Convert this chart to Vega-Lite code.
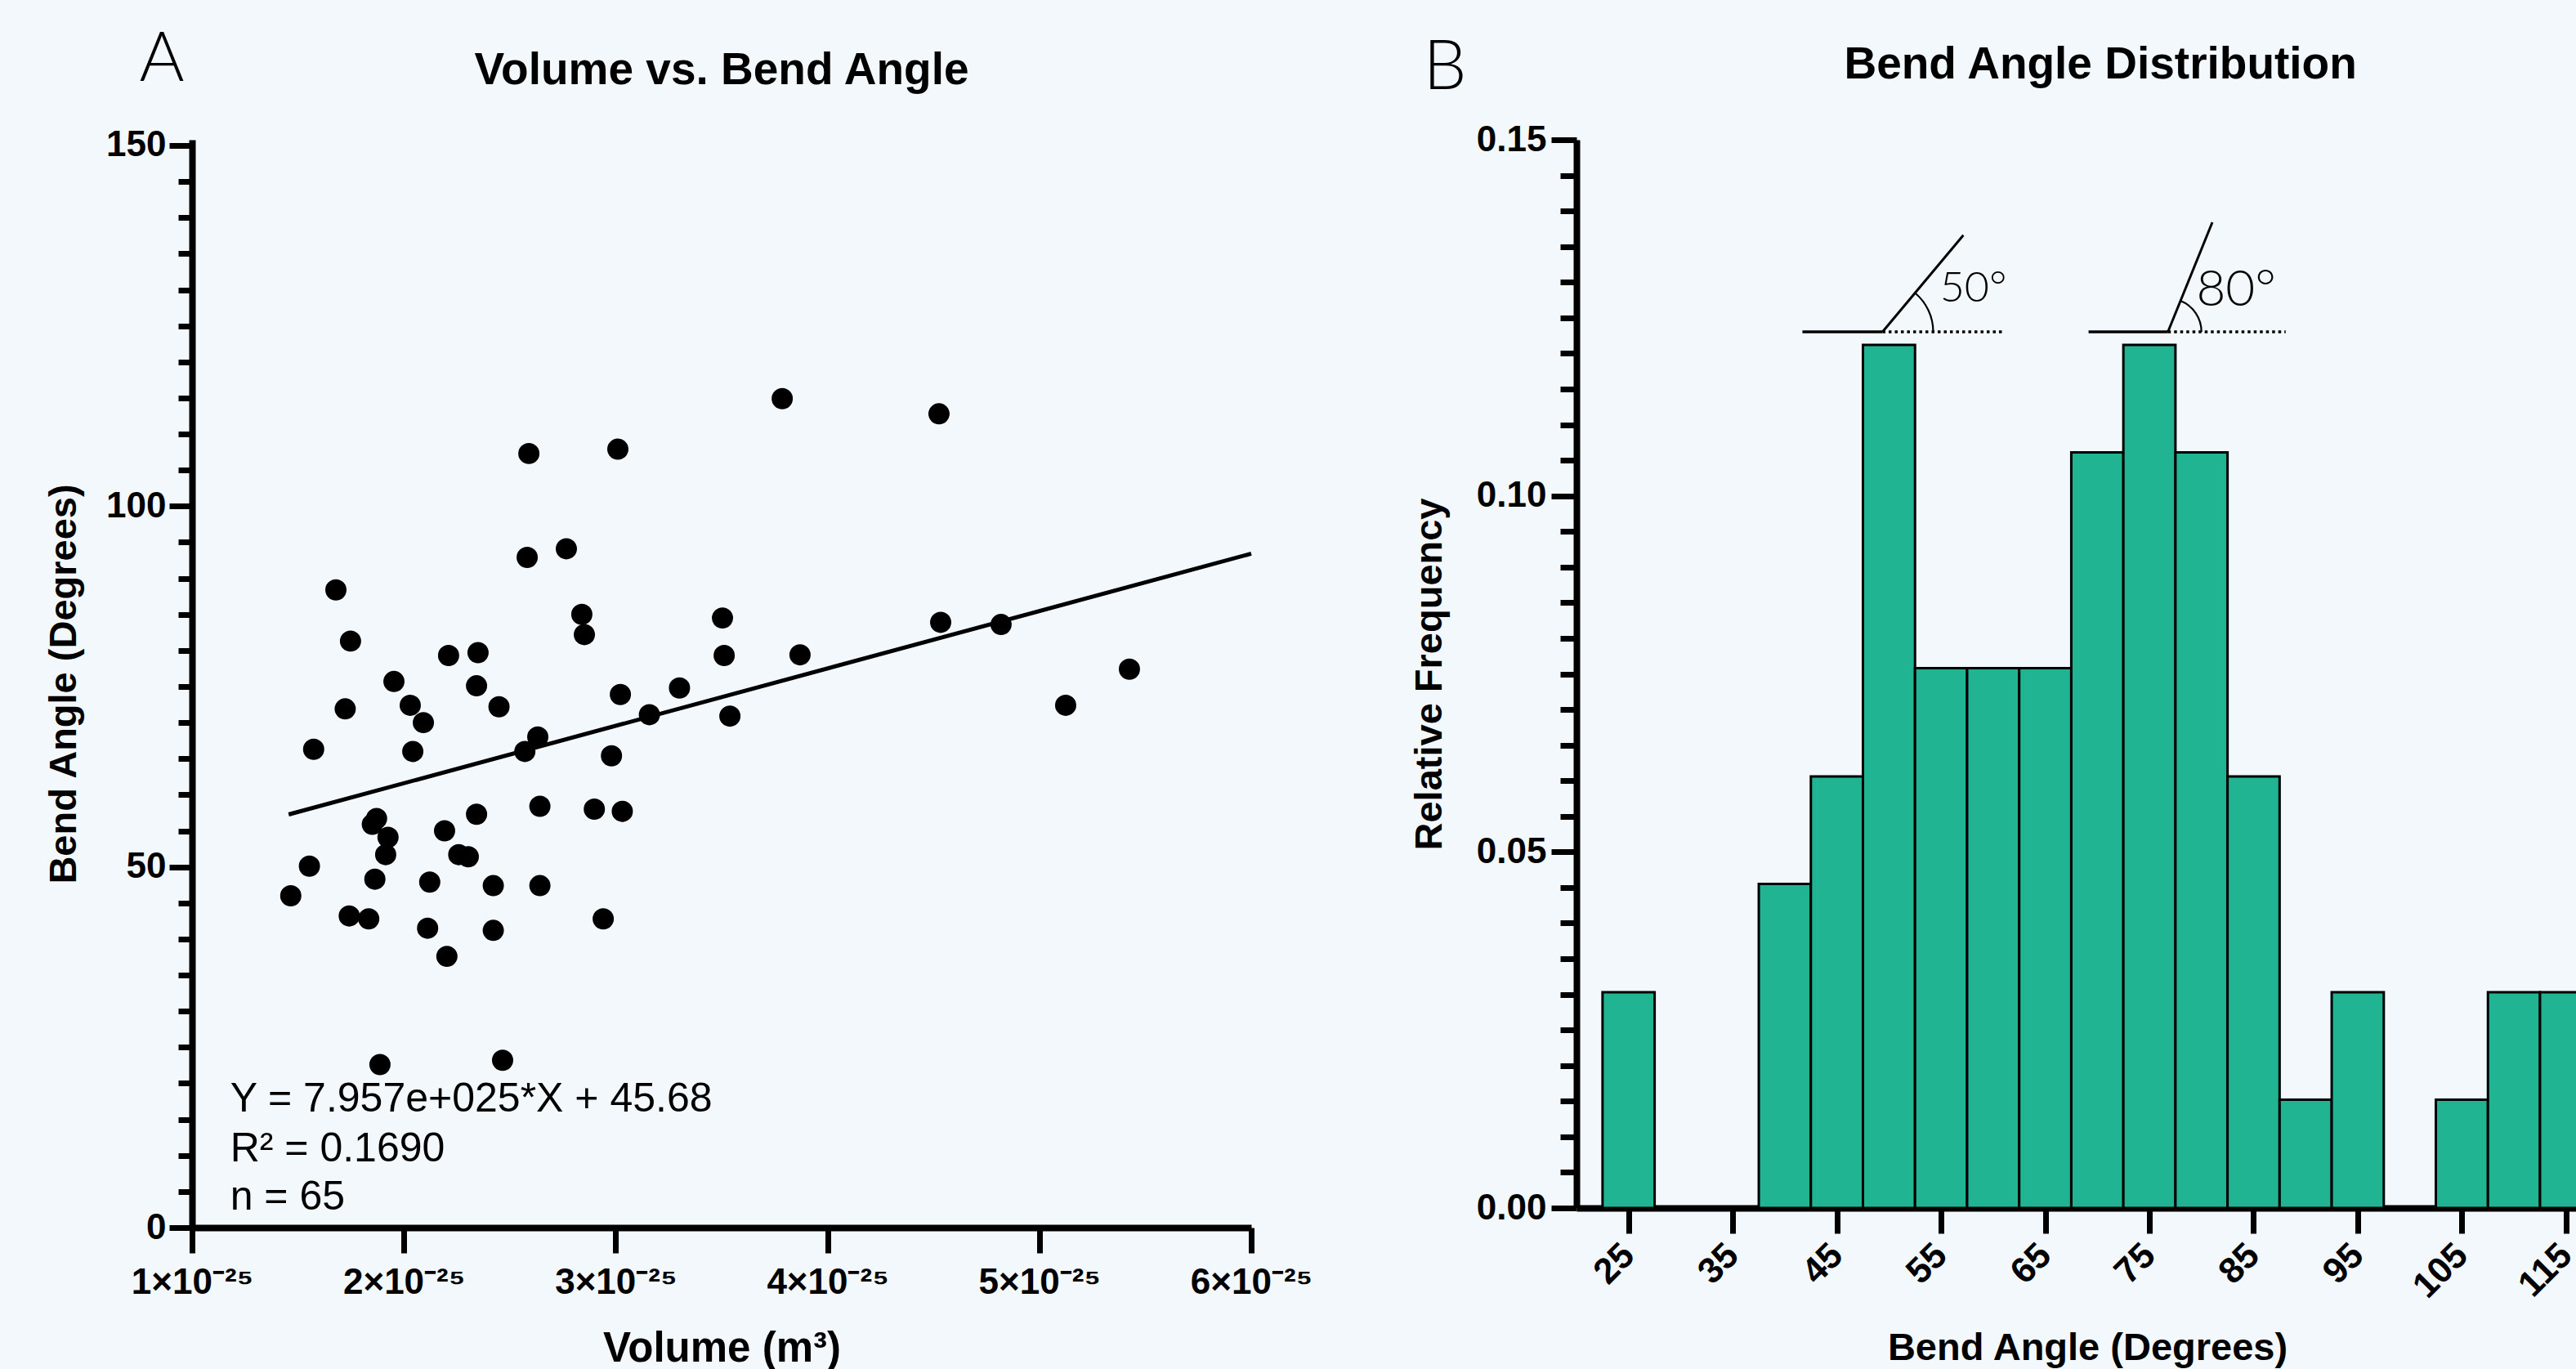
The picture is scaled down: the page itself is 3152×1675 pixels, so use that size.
{
  "$schema": "https://vega.github.io/schema/vega-lite/v6.json",
  "background": "#f3f8fc",
  "padding": {"left": 54, "top": 32, "right": 0, "bottom": 0},
  "bounds": "flush",
  "spacing": 398,
  "config": {
    "font": "Liberation Sans",
    "view": {"stroke": null},
    "axis": {
      "grid": false,
      "domainColor": "black",
      "domainWidth": 8,
      "tickColor": "black",
      "tickWidth": 7,
      "labelColor": "black",
      "labelFont": "Liberation Sans",
      "labelFontWeight": "bold",
      "labelFontSize": 44,
      "labelFlush": false,
      "labelOverlap": false,
      "labelBound": false,
      "titleFont": "Liberation Sans",
      "titleFontWeight": "bold",
      "titleColor": "black"
    }
  },
  "hconcat": [
    {
      "width": 1296,
      "height": 1331,
      "encoding": {
        "x": {
          "field": "vol",
          "type": "quantitative",
          "scale": {"domain": [1e-25, 6e-25], "nice": false, "zero": false},
          "axis": {
            "values": [1e-25, 2e-25, 3e-25, 4e-25, 5e-25, 6e-25],
            "labelExpr": "round(datum.value*1e25) + '×10⁻²⁵'",
            "tickSize": 31,
            "labelPadding": 14,
            "title": "Volume (m³)",
            "titleFontSize": 51,
            "titlePadding": 34
          }
        },
        "y": {
          "field": "angle",
          "type": "quantitative",
          "scale": {"domain": [0, 150.79], "nice": false, "zero": false},
          "axis": {
            "values": [0,5,10,15,20,25,30,35,40,45,50,55,60,65,70,75,80,85,90,95,100,105,110,115,120,125,130,135,140,145,150],
            "labelExpr": "datum.value % 50 === 0 ? datum.label : ''",
            "tickSize": {"condition": {"test": "datum.value % 50 === 0", "value": 28}, "value": 17},
            "labelPadding": 4,
            "title": "Bend Angle (Degrees)",
            "titleFontSize": 47,
            "titlePadding": 27
          }
        }
      },
      "layer": [
        {
          "data": {"values": [
            {"vol": 3.786e-25, "angle": 114.9},
            {"vol": 4.526e-25, "angle": 112.8},
            {"vol": 2.590e-25, "angle": 107.3},
            {"vol": 3.010e-25, "angle": 107.9},
            {"vol": 2.582e-25, "angle": 92.9},
            {"vol": 2.767e-25, "angle": 94.1},
            {"vol": 1.679e-25, "angle": 88.4},
            {"vol": 2.840e-25, "angle": 85.0},
            {"vol": 2.852e-25, "angle": 82.2},
            {"vol": 1.748e-25, "angle": 81.3},
            {"vol": 3.504e-25, "angle": 84.5},
            {"vol": 4.534e-25, "angle": 83.9},
            {"vol": 4.819e-25, "angle": 83.6},
            {"vol": 2.211e-25, "angle": 79.3},
            {"vol": 2.350e-25, "angle": 79.7},
            {"vol": 3.512e-25, "angle": 79.3},
            {"vol": 3.870e-25, "angle": 79.4},
            {"vol": 5.425e-25, "angle": 77.4},
            {"vol": 1.953e-25, "angle": 75.7},
            {"vol": 2.343e-25, "angle": 75.1},
            {"vol": 1.723e-25, "angle": 71.9},
            {"vol": 2.030e-25, "angle": 72.4},
            {"vol": 2.092e-25, "angle": 70.0},
            {"vol": 2.449e-25, "angle": 72.2},
            {"vol": 1.574e-25, "angle": 66.3},
            {"vol": 2.042e-25, "angle": 66.0},
            {"vol": 2.632e-25, "angle": 68.0},
            {"vol": 2.571e-25, "angle": 66.0},
            {"vol": 1.871e-25, "angle": 56.7},
            {"vol": 1.851e-25, "angle": 55.9},
            {"vol": 1.925e-25, "angle": 54.1},
            {"vol": 1.914e-25, "angle": 51.7},
            {"vol": 2.343e-25, "angle": 57.3},
            {"vol": 2.642e-25, "angle": 58.4},
            {"vol": 2.192e-25, "angle": 55.0},
            {"vol": 2.259e-25, "angle": 51.7},
            {"vol": 2.304e-25, "angle": 51.4},
            {"vol": 1.554e-25, "angle": 50.1},
            {"vol": 1.863e-25, "angle": 48.3},
            {"vol": 2.122e-25, "angle": 47.9},
            {"vol": 2.422e-25, "angle": 47.4},
            {"vol": 2.642e-25, "angle": 47.4},
            {"vol": 1.466e-25, "angle": 46.0},
            {"vol": 1.742e-25, "angle": 43.2},
            {"vol": 1.834e-25, "angle": 42.8},
            {"vol": 2.112e-25, "angle": 41.5},
            {"vol": 2.422e-25, "angle": 41.2},
            {"vol": 2.203e-25, "angle": 37.6},
            {"vol": 3.022e-25, "angle": 73.9},
            {"vol": 3.301e-25, "angle": 74.8},
            {"vol": 3.159e-25, "angle": 71.1},
            {"vol": 3.539e-25, "angle": 70.9},
            {"vol": 2.980e-25, "angle": 65.4},
            {"vol": 2.899e-25, "angle": 58.0},
            {"vol": 3.031e-25, "angle": 57.7},
            {"vol": 2.941e-25, "angle": 42.8},
            {"vol": 5.124e-25, "angle": 72.4},
            {"vol": 1.887e-25, "angle": 22.6},
            {"vol": 2.466e-25, "angle": 23.2}
          ]},
          "mark": {"type": "circle", "size": 674, "color": "black", "opacity": 1}
        },
        {
          "data": {"values": [
            {"vol": 1.456e-25, "angle": 57.27},
            {"vol": 6e-25, "angle": 93.42}
          ]},
          "mark": {"type": "line", "color": "black", "strokeWidth": 5}
        },
        {
          "data": {"values": [
            {"vol": 1.18e-25, "angle": 16.09, "txt": "Y = 7.957e+025*X + 45.68"},
            {"vol": 1.18e-25, "angle": 9.18, "txt": "R² = 0.1690"},
            {"vol": 1.18e-25, "angle": 2.49, "txt": "n = 65"}
          ]},
          "mark": {"type": "text", "align": "left", "baseline": "alphabetic", "font": "Liberation Sans", "fontSize": 50, "color": "black"},
          "encoding": {"text": {"field": "txt"}}
        },
        {
          "data": {"values": [{"vol": 3.5e-25, "angle": 158.5, "txt": "Volume vs. Bend Angle"}]},
          "mark": {"type": "text", "align": "center", "baseline": "alphabetic", "font": "Liberation Sans", "fontWeight": "bold", "fontSize": 55, "color": "black"},
          "encoding": {"text": {"field": "txt"}}
        },
        {
          "data": {"values": [{"vol": 0.857e-25, "angle": 158.9, "txt": "A"}]},
          "mark": {"type": "text", "align": "center", "baseline": "alphabetic", "font": "Lato", "fontWeight": 300, "fontSize": 84, "color": "black"},
          "encoding": {"text": {"field": "txt"}}
        }
      ]
    },
    {
      "width": 1225,
      "height": 1307,
      "encoding": {
        "x": {
          "field": "deg",
          "type": "quantitative",
          "scale": {"domain": [20, 116.11], "nice": false, "zero": false},
          "axis": {
            "values": [25, 35, 45, 55, 65, 75, 85, 95, 105, 115],
            "tickSize": 31,
            "labelAngle": -45,
            "labelAlign": "right",
            "labelBaseline": "middle",
            "labelPadding": 20,
            "title": "Bend Angle (Degrees)",
            "titleFontSize": 47,
            "titlePadding": 30,
            "titleX": 625
          }
        },
        "y": {
          "field": "freq",
          "type": "quantitative",
          "scale": {"domain": [0, 0.15], "nice": false, "zero": false},
          "axis": {
            "values": [0,0.005,0.01,0.015,0.02,0.025,0.03,0.035,0.04,0.045,0.05,0.055,0.06,0.065,0.07,0.075,0.08,0.085,0.09,0.095,0.1,0.105,0.11,0.115,0.12,0.125,0.13,0.135,0.14,0.145,0.15],
            "labelExpr": "abs(datum.value*20 - round(datum.value*20)) < 0.001 ? format(datum.value, '.2f') : ''",
            "tickSize": {"condition": {"test": "abs(datum.value*20 - round(datum.value*20)) < 0.001", "value": 31}, "value": 20},
            "labelPadding": 6,
            "title": "Relative Frequency",
            "titleFontSize": 47,
            "titlePadding": 33
          }
        }
      },
      "layer": [
        {
          "data": {"values": [
            {"deg": 22.5, "deg2": 27.5, "freq": 0.0303},
            {"deg": 37.5, "deg2": 42.5, "freq": 0.0455},
            {"deg": 42.5, "deg2": 47.5, "freq": 0.0606},
            {"deg": 47.5, "deg2": 52.5, "freq": 0.1212},
            {"deg": 52.5, "deg2": 57.5, "freq": 0.0758},
            {"deg": 57.5, "deg2": 62.5, "freq": 0.0758},
            {"deg": 62.5, "deg2": 67.5, "freq": 0.0758},
            {"deg": 67.5, "deg2": 72.5, "freq": 0.1061},
            {"deg": 72.5, "deg2": 77.5, "freq": 0.1212},
            {"deg": 77.5, "deg2": 82.5, "freq": 0.1061},
            {"deg": 82.5, "deg2": 87.5, "freq": 0.0606},
            {"deg": 87.5, "deg2": 92.5, "freq": 0.0152},
            {"deg": 92.5, "deg2": 97.5, "freq": 0.0303},
            {"deg": 102.5, "deg2": 107.5, "freq": 0.0152},
            {"deg": 107.5, "deg2": 112.5, "freq": 0.0303},
            {"deg": 112.5, "deg2": 117.5, "freq": 0.0303}
          ]},
          "mark": {"type": "bar", "fill": "#20b493", "stroke": "black", "strokeWidth": 3, "clip": true},
          "encoding": {"x2": {"field": "deg2"}, "y2": {"datum": 0}}
        },
        {
          "data": {"values": [
            {"deg": 41.69, "deg2": 49.38, "freq": 0.12303, "freq2": 0.12303},
            {"deg": 69.16, "deg2": 76.78, "freq": 0.12303, "freq2": 0.12303}
          ]},
          "mark": {"type": "rule", "color": "black", "strokeWidth": 3.5},
          "encoding": {"x2": {"field": "deg2"}, "y2": {"field": "freq2"}}
        },
        {
          "data": {"values": [
            {"deg": 49.38, "deg2": 57.14, "freq": 0.12303, "freq2": 0.13661},
            {"deg": 76.78, "deg2": 81.04, "freq": 0.12303, "freq2": 0.13841}
          ]},
          "mark": {"type": "rule", "color": "black", "strokeWidth": 3},
          "encoding": {"x2": {"field": "deg2"}, "y2": {"field": "freq2"}}
        },
        {
          "data": {"values": [
            {"deg": 49.38, "deg2": 60.84, "freq": 0.12303, "freq2": 0.12303},
            {"deg": 76.78, "deg2": 88.08, "freq": 0.12303, "freq2": 0.12303}
          ]},
          "mark": {"type": "rule", "color": "black", "strokeWidth": 3.5, "strokeDash": [3.5, 4]},
          "encoding": {"x2": {"field": "deg2"}, "y2": {"field": "freq2"}}
        },
        {
          "data": {"values": [{"deg": 49.38, "freq": 0.12303}]},
          "mark": {"type": "arc", "theta": 0.698, "theta2": 1.5708, "radius": 62, "radius2": 62, "filled": false, "color": "black", "strokeWidth": 2.2}
        },
        {
          "data": {"values": [{"deg": 76.78, "freq": 0.12303}]},
          "mark": {"type": "arc", "theta": 0.384, "theta2": 1.5708, "radius": 41, "radius2": 41, "filled": false, "color": "black", "strokeWidth": 2.2}
        },
        {
          "data": {"values": [{"deg": 54.89, "freq": 0.12731, "txt": "50°"}]},
          "mark": {"type": "text", "align": "left", "baseline": "alphabetic", "font": "Lato", "fontWeight": 300, "fontSize": 52, "color": "black"},
          "encoding": {"text": {"field": "txt"}}
        },
        {
          "data": {"values": [{"deg": 79.5, "freq": 0.12674, "txt": "80°"}]},
          "mark": {"type": "text", "align": "left", "baseline": "alphabetic", "font": "Lato", "fontWeight": 300, "fontSize": 62, "color": "black"},
          "encoding": {"text": {"field": "txt"}}
        },
        {
          "data": {"values": [{"deg": 70.3, "freq": 0.15861, "txt": "Bend Angle Distribution"}]},
          "mark": {"type": "text", "align": "center", "baseline": "alphabetic", "font": "Liberation Sans", "fontWeight": "bold", "fontSize": 55, "color": "black"},
          "encoding": {"text": {"field": "txt"}}
        },
        {
          "data": {"values": [{"deg": 7.38, "freq": 0.15712, "txt": "B"}]},
          "mark": {"type": "text", "align": "center", "baseline": "alphabetic", "font": "Lato", "fontWeight": 300, "fontSize": 84, "color": "black"},
          "encoding": {"text": {"field": "txt"}}
        }
      ]
    }
  ]
}
